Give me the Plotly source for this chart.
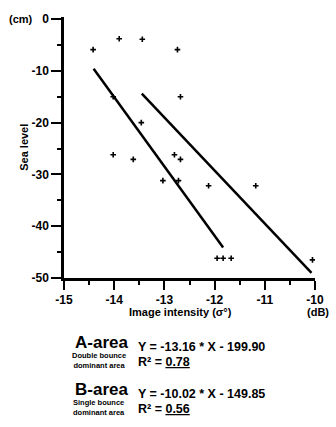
import plotly.graph_objects as go

# Observed points (image intensity dB, sea level cm)
pt_x = [-14.42, -13.90, -13.44, -12.74, -12.68, -14.02, -13.46, -14.02, -13.62, -12.80,
        -12.68, -13.03, -12.72, -12.12, -11.18, -11.95, -11.83, -11.67, -10.05]
pt_y = [-5.9, -3.8, -3.9, -5.9, -15.0, -15.0, -20.0, -26.2, -27.1, -26.2,
        -27.1, -31.2, -31.2, -32.2, -32.2, -46.2, -46.2, -46.2, -46.5]

# Regression line endpoints
a_x = [-14.41, -11.83]
a_y = [-9.6, -44.1]
b_x = [-13.45, -10.07]
b_y = [-14.4, -49.0]

x_ticks = [-15, -14, -13, -12, -11, -10]
y_ticks = [0, -10, -20, -30, -40, -50]

FONT = "Liberation Sans, Arial, sans-serif"
L, R, T, B = 64, 16, 13, 149
W, H = 336, 427
PW = W - L - R
PH = H - T - B

def px(x):
    return (x - L) / PW

def py(y):
    return (H - B - y) / PH

fig = go.Figure()
fig.add_trace(go.Scatter(x=a_x, y=a_y, mode="lines", line=dict(color="black", width=2.5),
                         showlegend=False, hoverinfo="skip"))
fig.add_trace(go.Scatter(x=b_x, y=b_y, mode="lines", line=dict(color="black", width=2.5),
                         showlegend=False, hoverinfo="skip"))
fig.add_trace(go.Scatter(x=pt_x, y=pt_y, mode="markers",
                         marker=dict(symbol="cross-thin", size=4, color="black",
                                     line=dict(color="black", width=1.6)),
                         showlegend=False))

fig.update_layout(
    width=W, height=H,
    margin=dict(l=L, r=R, t=T, b=B),
    paper_bgcolor="white", plot_bgcolor="white",
    font=dict(family=FONT, color="black"),
)
fig.update_xaxes(range=[-15, -10], tickvals=x_ticks, ticktext=[str(v) for v in x_ticks],
                 showline=True, linecolor="black", linewidth=2.5, showgrid=False, zeroline=False,
                 ticks="outside", ticklen=9, tickwidth=2, tickcolor="black",
                 tickfont=dict(size=12, family=FONT, weight="bold"),
                 minor=dict(dtick=0.5, ticks="outside", ticklen=4, tickwidth=2, tickcolor="black"))
fig.update_yaxes(range=[-50, 0.4], tickvals=y_ticks, ticktext=[str(v) for v in y_ticks],
                 showline=True, linecolor="black", linewidth=2.5, showgrid=False, zeroline=False,
                 ticks="outside", ticklen=10, tickwidth=2, tickcolor="black",
                 tickfont=dict(size=12, family=FONT, weight="bold"),
                 minor=dict(dtick=5, tick0=0, ticks="outside", ticklen=4, tickwidth=2, tickcolor="black"))

def ann(text, x, y, size, xanchor="center", angle=0, yanchor="middle"):
    fig.add_annotation(text=text, x=x, y=y, xref="paper", yref="paper", showarrow=False,
                       xanchor=xanchor, yanchor=yanchor, textangle=angle,
                       font=dict(family=FONT, size=size, color="black", weight="bold"))

ann("(cm)", px(34), py(15), 11, xanchor="right")
ann("Sea level", px(23), py(145), 11, angle=-90)
ann("Image intensity (σ°)", px(183), py(313), 11)
ann("(dB)", px(323), py(313), 11)

ann("A-area", px(102), py(343), 17)
ann("Double bounce<br>dominant area", px(100), py(361.5), 7.5)
ann("Y = -13.16 * X - 199.90", px(137), py(348), 12.5, xanchor="left")
ann("R² = <u>0.78</u>", px(137), py(363), 12.5, xanchor="left")

ann("B-area", px(102), py(391), 17)
ann("Single bounce<br>dominant area", px(100), py(409.5), 7.5)
ann("Y = -10.02 * X - 149.85", px(137), py(396), 12.5, xanchor="left")
ann("R² = <u>0.56</u>", px(137), py(411), 12.5, xanchor="left")

fig.write_html("out.html", config={"displayModeBar": False},
               post_script="document.body.style.margin='0';document.body.style.overflow='hidden';")
